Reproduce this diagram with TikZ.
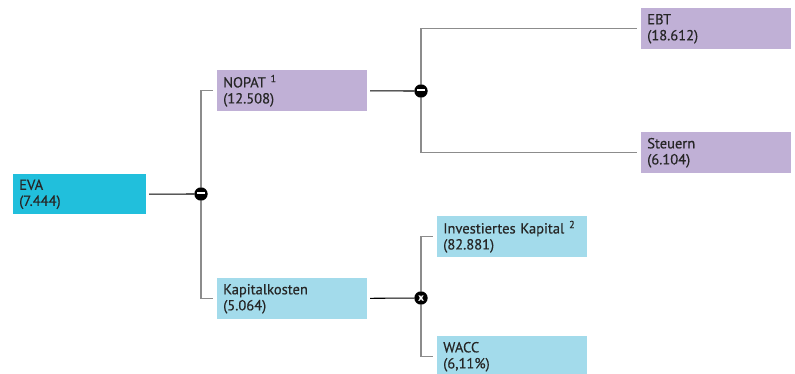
\documentclass[tikz,border=0pt]{standalone}
\usepackage{fontspec}
\setmainfont{PT Sans}[FakeBold=0.4]
\usetikzlibrary{positioning}
\definecolor{evablue}{HTML}{21BFDC}
\definecolor{lightblue}{HTML}{A3DBEB}
\definecolor{lilac}{HTML}{C0B0D6}
\tikzset{box/.style={rectangle, anchor=north west, inner xsep=4.5pt, inner ysep=0pt, align=left, text=black!85, font=\fontsize{10.9}{12}\selectfont},
  op/.style={circle, fill=black, inner sep=0pt, minimum size=10pt, text=white, font=\bfseries\fontsize{7.5}{7.5}\selectfont},
  branch/.style={draw=black!45, line width=0.9pt, shorten >=3pt},
  feed/.style={draw=black, line width=0.8pt, shorten <=2pt}}

\begin{document}
\begin{tikzpicture}[x=0.75pt,y=-0.75pt]
  \useasboundingbox (0,0) rectangle (795,374);
  \foreach \x/\y/\tw/\h/\lab/\col/\txt in {
    13/174/90.75/30/eva/evablue/{EVA\\(7.444)},
    217/70/103.5/30.75/nopat/lilac/{NOPAT~\textsuperscript{1}\\(12.508)},
    217/278/103.5/30.75/kapital/lightblue/{Kapitalkosten\\(5.064)},
    641/8/103.5/30.75/ebt/lilac/{EBT\\(18.612)},
    641/132/103.5/30.75/steuern/lilac/{Steuern\\(6.104)},
    437/216/103.5/30.75/invest/lightblue/{Investiertes Kapital~\textsuperscript{2}\\(82.881)},
    437/336/103.5/30.75/wacc/lightblue/{WACC\\(6,11\%)}%
  } {
    \node[box, fill=\col, text width=\tw pt, minimum height=\h pt] (\lab) at (\x, \y) {\txt};
  }
  % operators
  \node[op] (opeva) at (201,194) {\rule[0.3ex]{5.5pt}{1.8pt}};
  \node[op] (opnopat) at (421,91) {\rule[0.3ex]{5.5pt}{1.8pt}};
  \node[op] (opkap) at (421,298) {x};
  % connectors
  \draw[feed] (eva) -- (opeva);
  \draw[feed] (nopat) -- (opnopat);
  \draw[feed] (kapital) -- (opkap);
  \draw[branch] (opeva) |- (nopat.west);
  \draw[branch] (opeva) |- (kapital.west);
  \draw[branch] (opnopat) |- (ebt.west);
  \draw[branch] (opnopat) |- (steuern.west);
  \draw[branch] (opkap) |- (invest.west);
  \draw[branch] (opkap) |- (wacc.west);
\end{tikzpicture}
\end{document}
